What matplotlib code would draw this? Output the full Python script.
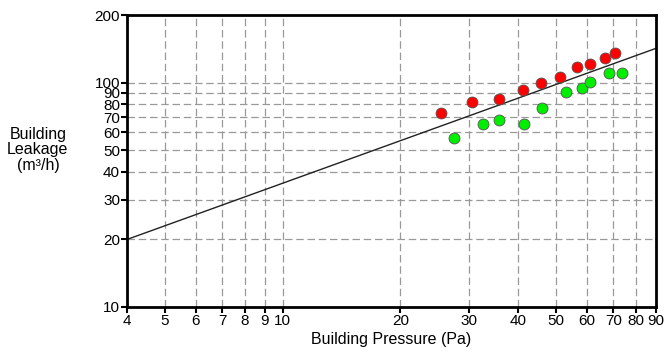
import matplotlib
matplotlib.use("Agg")
import matplotlib.pyplot as plt
import numpy as np
from matplotlib.ticker import FixedLocator, NullLocator, FixedFormatter

plt.rcParams['font.family'] = ['Liberation Sans', 'DejaVu Sans']

# measured points (Pa, m3/h)
red_p = [25.4, 30.4, 35.8, 41.1, 45.8, 51.1, 56.6, 60.9, 66.8, 70.8]
red_q = [73.4, 81.7, 84.5, 92.4, 99.9, 106.2, 117.0, 121.4, 128.3, 135.1]
green_p = [27.4, 32.6, 35.7, 41.4, 46.0, 53.1, 58.3, 60.9, 68.3, 73.7]
green_q = [56.5, 65.2, 68.1, 65.2, 77.3, 90.5, 94.3, 100.9, 110.0, 110.7]

# power law Q = C * P^n
C = 8.35
n = 0.63

x_ticks = [4, 5, 6, 7, 8, 9, 10, 20, 30, 40, 50, 60, 70, 80, 90]
y_ticks = [10, 20, 30, 40, 50, 60, 70, 80, 90, 100, 200]

fig = plt.figure(figsize=(6.65, 3.51), dpi=100)
ax = fig.add_axes([0.191, 0.1254, 0.7955, 0.8316])
ax.set_xscale('log')
ax.set_yscale('log')
ax.set_xlim(4, 90)
ax.set_ylim(10, 200)

ax.xaxis.set_major_locator(FixedLocator(x_ticks))
ax.xaxis.set_major_formatter(FixedFormatter([str(t) for t in x_ticks]))
ax.xaxis.set_minor_locator(NullLocator())
ax.yaxis.set_major_locator(FixedLocator(y_ticks))
ax.yaxis.set_major_formatter(FixedFormatter([str(t) for t in y_ticks]))
ax.yaxis.set_minor_locator(NullLocator())

ax.grid(True, which='major', color='#999999', linestyle=(0, (6, 3)), linewidth=0.9)
ax.set_axisbelow(True)

px = np.array([4, 90])
ax.plot(px, C * px ** n, color='#222222', linewidth=1.0, zorder=2)

ax.scatter(red_p, red_q, s=62, color='#ff0000', edgecolors='#555555', linewidths=0.6, zorder=3)
ax.scatter(green_p, green_q, s=62, color='#00ee00', edgecolors='#555555', linewidths=0.6, zorder=3)

for sp in ax.spines.values():
    sp.set_linewidth(2)
    sp.set_color('black')

ax.tick_params(axis='both', which='major', direction='out', length=4, width=1.5,
               labelsize=11, pad=1, color='black')

ax.set_xlabel('Building Pressure (Pa)', fontsize=11.5, labelpad=3)
fig.text(0.057, 0.573, 'Building\nLeakage\n(m³/h)', ha='center', va='center',
         fontsize=11.5, linespacing=1.05)

fig.savefig('out.png', dpi=100)
